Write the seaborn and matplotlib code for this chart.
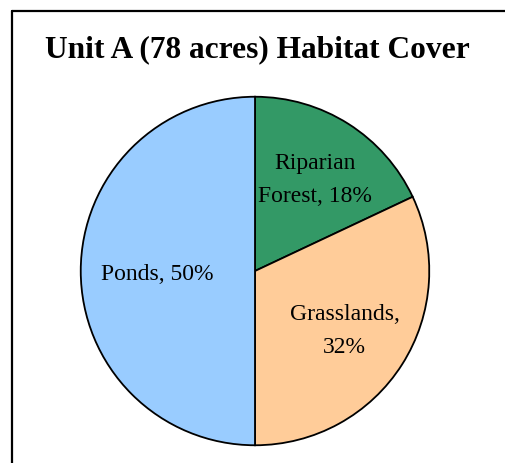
import matplotlib
matplotlib.use("Agg")
import numpy as np
import matplotlib.pyplot as plt
from matplotlib.lines import Line2D
import seaborn as sns

label_text = ["Riparian\nForest, 18%", "Grasslands,\n32%", "Ponds, 50%"]
shares = [18, 32, 50]
colors = ["#339966", "#FFCC99", "#99CCFF"]
label_radius = [0.64, 0.61, 0.56]
title = "Unit A (78 acres) Habitat Cover"

sns.set_style("white")
plt.rcParams["font.family"] = ["Liberation Serif", "DejaVu Serif"]
plt.rcParams["text.color"] = "black"

W, H = 506, 463
fig = plt.figure(figsize=(W / 100, H / 100), dpi=100)
fig.patch.set_facecolor("white")

cx, cy, r = 255, 271, 176
ax = fig.add_axes([(cx - r) / W, (H - cy - r) / H, 2 * r / W, 2 * r / H])
wedges, texts = ax.pie(
    shares,
    labels=label_text,
    colors=colors,
    startangle=90,
    counterclock=False,
    labeldistance=0.6,
    wedgeprops=dict(edgecolor="black", linewidth=1.3),
    textprops=dict(fontsize=17, color="black"),
)
for w, t, rad in zip(wedges, texts, label_radius):
    mid = np.deg2rad((w.theta1 + w.theta2) / 2)
    t.set_position((rad * np.cos(mid), rad * np.sin(mid) - 0.02))
    t.set_ha("center")
    t.set_va("center")
    t.set_linespacing(1.75)
ax.set_xlim(-1.01, 1.01)
ax.set_ylim(-1.01, 1.01)
ax.set_aspect("auto")
ax.axis("off")

fig.text(257 / W, 1 - 50 / H, title, ha="center", va="center",
         fontsize=22.6, fontweight="bold", color="black")

# frame around the chart area
fig.add_artist(Line2D([12 / W, 1.0], [1 - 11 / H, 1 - 11 / H], color="black",
                      linewidth=1.6, transform=fig.transFigure))
fig.add_artist(Line2D([12 / W, 12 / W], [0.0, 1 - 11 / H], color="black",
                      linewidth=1.6, transform=fig.transFigure))

fig.savefig("out.png", dpi=100)
